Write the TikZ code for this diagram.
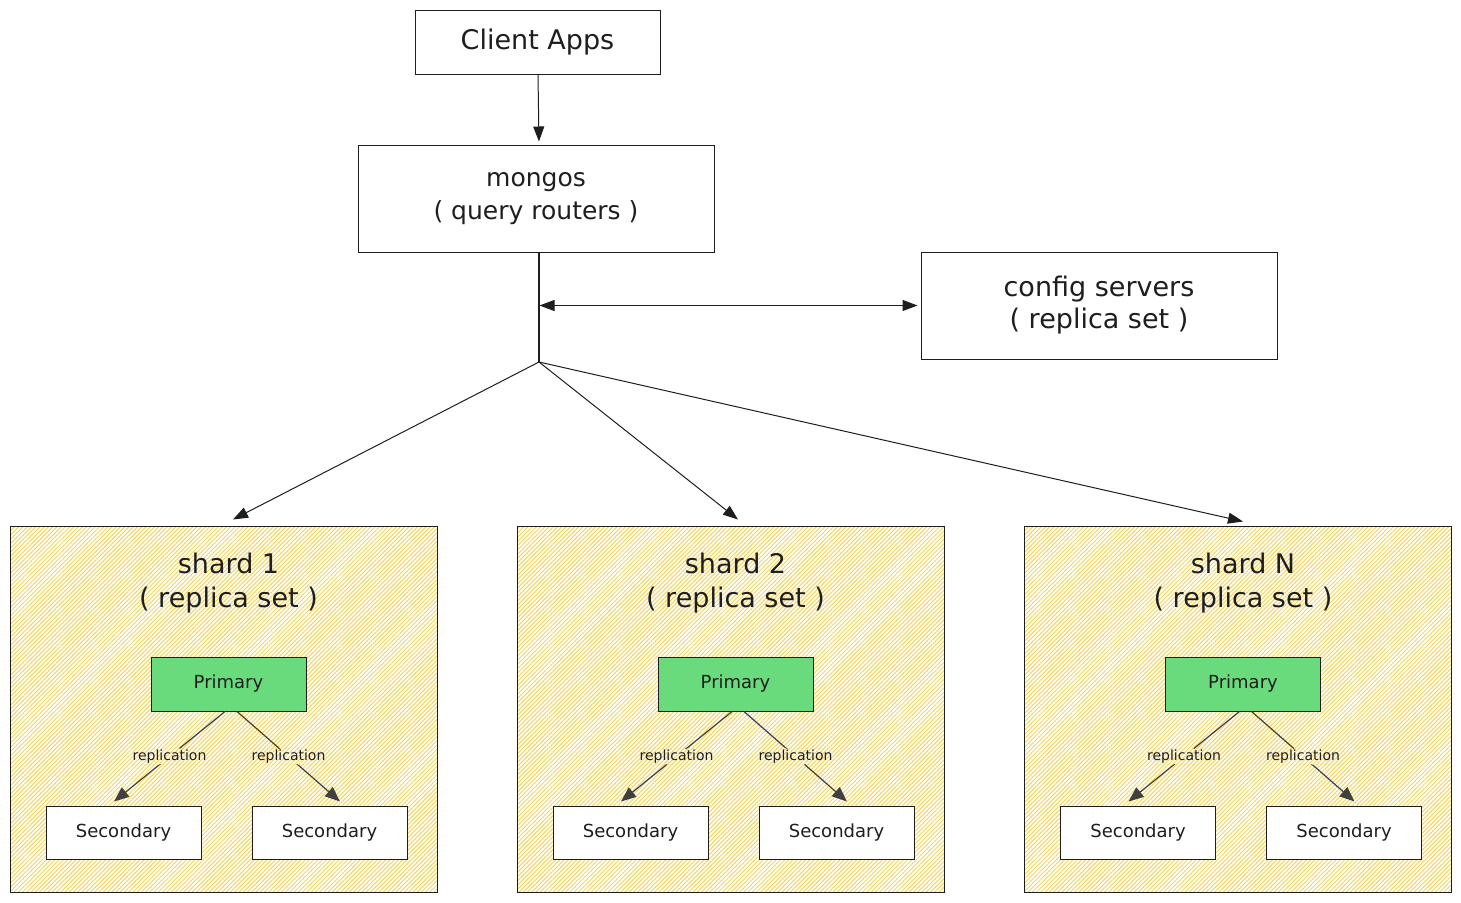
\documentclass[tikz,border=0pt]{standalone}
\usepackage{fontspec}
\setmainfont{DejaVu Sans}
\usetikzlibrary{arrows.meta,patterns.meta,calc}
\definecolor{ink}{RGB}{30,30,30}
\definecolor{hatch}{RGB}{250,212,85}
\definecolor{primfill}{RGB}{105,219,124}
\tikzset{
  box/.style={draw=ink,line width=1pt,fill=white,inner sep=0pt,align=center,text=ink},
  shardbox/.style={draw=ink,line width=1pt,inner sep=0pt,minimum width=427pt,minimum height=366pt,
    preaction={fill=white},pattern={Lines[angle=45,distance=3pt,line width=1pt]},pattern color=hatch},
  bigtxt/.style={font=\fontsize{27}{34}\selectfont,align=center,text=ink,inner sep=0pt},
  primbox/.style={box,fill=primfill,minimum width=155pt,minimum height=54pt,font=\fontsize{18}{22}\selectfont},
  secbox/.style={box,minimum width=155pt,minimum height=53pt,font=\fontsize{18}{22}\selectfont},
  conn/.style={draw=ink,line width=1pt,-{Triangle[length=15pt,width=11pt]}},
  replconn/.style={draw=ink!85,line width=1.2pt,-{Triangle[length=15pt,width=12pt]}},
  repllabel/.style={font=\fontsize{14}{16}\selectfont,text=ink,inner sep=1pt,
    preaction={fill=white},pattern={Lines[angle=45,distance=3pt,line width=1pt]},pattern color=hatch},
}
\begin{document}
\begin{tikzpicture}[x=1pt,y=-1pt]
\useasboundingbox (0,0) rectangle (1461,902);
% top boxes
\node[box,minimum width=245pt,minimum height=64pt,font=\fontsize{27}{33}\selectfont] (client) at (537.5,42) {Client Apps};
\node[box,minimum width=356pt,minimum height=107pt,font=\fontsize{25}{33}\selectfont] (mongos) at (536,198.5) {\raisebox{-3pt}{mongos}\\\raisebox{-3pt}{( query routers )}};
\node[box,minimum width=356pt,minimum height=107pt,font=\fontsize{27}{32}\selectfont] (config) at (1099,305.5) {\raisebox{-3pt}{config servers}\\\raisebox{-3pt}{( replica set )}};
% shards
\foreach \i/\dx/\name in {1/0/1,2/507/2,3/1014.5/N}{
  \node[shardbox] (sh\i) at (223.5+\dx,709) {};
  \node[bigtxt] (t\i) at (228.5+\dx,583) {shard \name\\( replica set )};
  \node[primbox] (p\i) at (228.5+\dx,684) {Primary};
  \node[secbox] (sl\i) at (123.5+\dx,832.5) {Secondary};
  \node[secbox] (sr\i) at (329.5+\dx,832.5) {Secondary};
  \draw[replconn] ($(p\i.south)+(-3.5,0)$) -- node[repllabel] (rl\i) {replication} ($(sl\i.north)+(-9.5,-4)$);
  \draw[replconn] ($(p\i.south)+(8.5,0)$) -- node[repllabel] (rr\i) {replication} ($(sr\i.north)+(10.5,-4)$);
}
% connectors
\coordinate (j) at (539,362);
\coordinate (m) at (539.5,305.5);
\draw[conn,shorten >=3pt] ($(client.south)+(0.5,0)$) -- ($(mongos.north)+(3,0)$);
\draw[draw=ink,line width=1.2pt] (mongos.south -| j) -- (j);
\draw[draw=ink,line width=1pt,{Triangle[length=15pt,width=11pt]}-{Triangle[length=15pt,width=11pt]},shorten >=3pt] (m) -- (config.west);
\draw[conn] (j) -- ($(sh1.north)+(9.5,-6)$);
\draw[conn] (j) -- ($(sh2.north)+(7.5,-6)$);
\draw[conn] (j) -- ($(sh3.north)+(5,-4)$);
\end{tikzpicture}
\end{document}
